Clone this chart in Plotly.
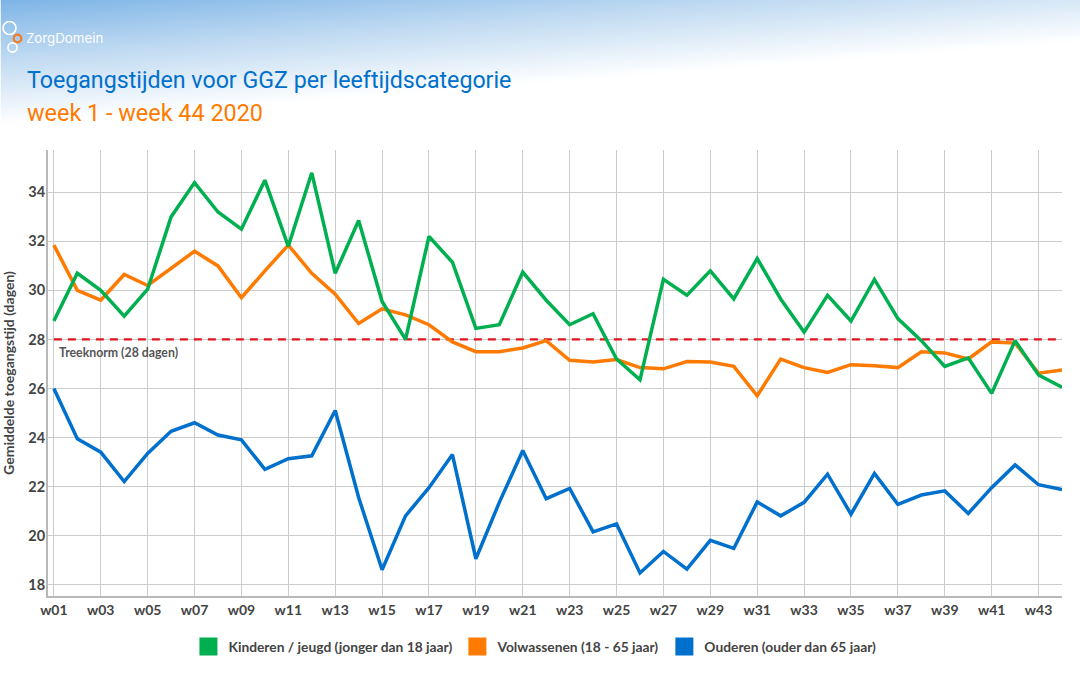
import base64
import plotly.graph_objects as go

weeks = ["w%02d" % i for i in range(1, 45)]
tick_weeks = weeks[::2]
y_ticks = [18, 20, 22, 24, 26, 28, 30, 32, 34]

kinderen = [28.75, 30.7, 30.0, 28.95, 30.05, 33.0, 34.4, 33.2, 32.5, 34.5, 31.8,
            34.8, 30.7, 32.85, 29.55, 28.0, 32.2, 31.15, 28.45, 28.6, 30.75, 29.6,
            28.6, 29.05, 27.2, 26.35, 30.45, 29.8, 30.8, 29.65, 31.3, 29.65,
            28.3, 29.8, 28.75, 30.45, 28.85, 27.95, 26.9, 27.25, 25.8, 27.95, 26.55, 26.05]
volwassenen = [31.85, 30.0, 29.6, 30.65, 30.2, 30.9, 31.6, 31.0, 29.7, 30.8, 31.85,
               30.7, 29.85, 28.65, 29.25, 29.0, 28.6, 27.9, 27.5, 27.5, 27.65, 27.95,
               27.15, 27.08, 27.18, 26.85, 26.8, 27.1, 27.08, 26.9, 25.7, 27.2,
               26.85, 26.65, 26.97, 26.93, 26.85, 27.5, 27.45, 27.2, 27.9, 27.85, 26.62, 26.75]
ouderen = [26.0, 23.95, 23.4, 22.2, 23.35, 24.25, 24.6, 24.1, 23.9, 22.7, 23.13,
           23.25, 25.1, 21.55, 18.6, 20.8, 21.95, 23.3, 19.05, 21.35, 23.47, 21.5,
           21.92, 20.15, 20.47, 18.47, 19.35, 18.63, 19.8, 19.47, 21.37, 20.8,
           21.35, 22.5, 20.87, 22.53, 21.27, 21.65, 21.82, 20.9, 21.95, 22.88, 22.07, 21.87]
treeknorm = [28] * 44

GREEN = "#00b050"
ORANGE = "#ff7a00"
BLUE = "#0070cd"
RED = "#e0141e"
TEXT = "#444444"
WIDTH, HEIGHT = 1080, 675
BODY_FONT = "Lato"
LEFT, RIGHT, TOP, BOTTOM = 47.5, 18, 150, 79

# background fade behind the header
svg = """<svg xmlns="http://www.w3.org/2000/svg" width="1080" height="675" preserveAspectRatio="none">
<defs><linearGradient id="g" gradientUnits="userSpaceOnUse" x1="0" y1="0" x2="9.6" y2="124.3">
<stop offset="0" stop-color="#7db4e6"/><stop offset="0.45" stop-color="#bcd8f1"/>
<stop offset="1" stop-color="#ffffff"/></linearGradient></defs>
<rect width="1080" height="675" fill="url(#g)"/></svg>"""
bg_source = "data:image/svg+xml;base64," + base64.b64encode(svg.encode()).decode()

# paper coordinates for the header live on the whole page, not the plot area
plot_w = WIDTH - LEFT - RIGHT
plot_h = HEIGHT - TOP - BOTTOM


def ax(x):
    return (x - LEFT) / plot_w


def ay(y):
    return (HEIGHT - BOTTOM - y) / plot_h


fig = go.Figure()

fig.add_trace(go.Scatter(x=weeks, y=ouderen, mode="lines", showlegend=False,
                         line=dict(color=BLUE, width=3.5)))
fig.add_trace(go.Scatter(x=weeks, y=treeknorm, mode="lines", showlegend=False,
                         line=dict(color=RED, width=2.2, dash="8px,6px")))
fig.add_trace(go.Scatter(x=weeks, y=volwassenen, mode="lines", showlegend=False,
                         line=dict(color=ORANGE, width=3.5)))
fig.add_trace(go.Scatter(x=weeks, y=kinderen, mode="lines", showlegend=False,
                         line=dict(color=GREEN, width=3.5)))

# legend uses square swatches, the lines themselves stay out of it
for name, color in [("Kinderen / jeugd (jonger dan 18 jaar)", GREEN),
                    ("Volwassenen (18 - 65 jaar)", ORANGE),
                    ("Ouderen (ouder dan 65 jaar)", BLUE)]:
    fig.add_trace(go.Scatter(x=[None], y=[None], mode="markers", name=name,
                             marker=dict(symbol="square", size=16, color=color,
                                         line=dict(color=color, width=2))))

fig.update_layout(
    width=WIDTH,
    height=HEIGHT,
    margin=dict(l=LEFT, r=RIGHT, t=TOP, b=BOTTOM, pad=0, autoexpand=False),
    paper_bgcolor="white",
    plot_bgcolor="rgba(0,0,0,0)",
    font=dict(family=BODY_FONT, color=TEXT),
    hovermode=False,
    xaxis=dict(type="category", categoryorder="array", categoryarray=weeks,
               range=[-0.25, 43], tickmode="array", tickvals=tick_weeks,
               showgrid=True, gridcolor="#cccccc", gridwidth=1,
               showline=True, linecolor="#b8b8b8", linewidth=2,
               ticks="", tickfont=dict(size=14, family=BODY_FONT, weight="bold", color=TEXT),
               tickangle=0, zeroline=False),
    yaxis=dict(range=[17.53, 35.73], tickmode="array", tickvals=y_ticks,
               showgrid=True, gridcolor="#cccccc", gridwidth=1,
               showline=True, linecolor="#b8b8b8", linewidth=2,
               ticks="", tickfont=dict(size=14.5, family=BODY_FONT, weight="bold", color=TEXT),
               ticklabelstandoff=-2, zeroline=False,
               title=dict(text="Gemiddelde toegangstijd (dagen)", standoff=10,
                          font=dict(size=14, family=BODY_FONT, weight="bold", color=TEXT))),
    legend=dict(orientation="h", x=ax(188), xanchor="left", y=ay(631), yanchor="top",
                bgcolor="rgba(0,0,0,0)", itemclick=False, itemdoubleclick=False,
                font=dict(size=13.8, family=BODY_FONT, weight="bold", color=TEXT)),
    images=[dict(source=bg_source, xref="paper", yref="paper", x=ax(0), y=ay(0),
                 sizex=WIDTH / plot_w, sizey=HEIGHT / plot_h, xanchor="left", yanchor="top",
                 sizing="stretch", layer="below")],
)

for text, x, y, size, color, family, weight in [
    ("Toegangstijden voor GGZ per leeftijdscategorie", 24, 80, 23.2, "#0070cd", "Roboto", 400),
    ("week 1 - week 44 2020", 24, 113, 23.4, "#ff7a00", "Roboto", 400),
    ("ZorgDomein", 23, 38, 13.3, "white", "Inter", 400),
    ("Treeknorm (28 dagen)", 57, 352, 12.3, "#555555", BODY_FONT, 700),
]:
    fig.add_annotation(text=text, xref="paper", yref="paper", x=ax(x), y=ay(y),
                       xanchor="left", yanchor="middle", showarrow=False,
                       font=dict(size=size, color=color, family=family, weight=weight))

# logo rings
for cx, cy, r, color, w in [(9, 28, 6.5, "white", 1.6), (17, 38.5, 3.8, "#f47b20", 2.2), (12, 47.5, 4.6, "white", 1.6)]:
    fig.add_shape(type="circle", xref="paper", yref="paper",
                  x0=ax(cx - r), x1=ax(cx + r), y0=ay(cy + r), y1=ay(cy - r),
                  line=dict(color=color, width=w), fillcolor="rgba(0,0,0,0)")

fig.write_html("out.html", config=dict(displayModeBar=False),
               post_script="document.body.style.margin='0';document.body.style.overflow='hidden';")
